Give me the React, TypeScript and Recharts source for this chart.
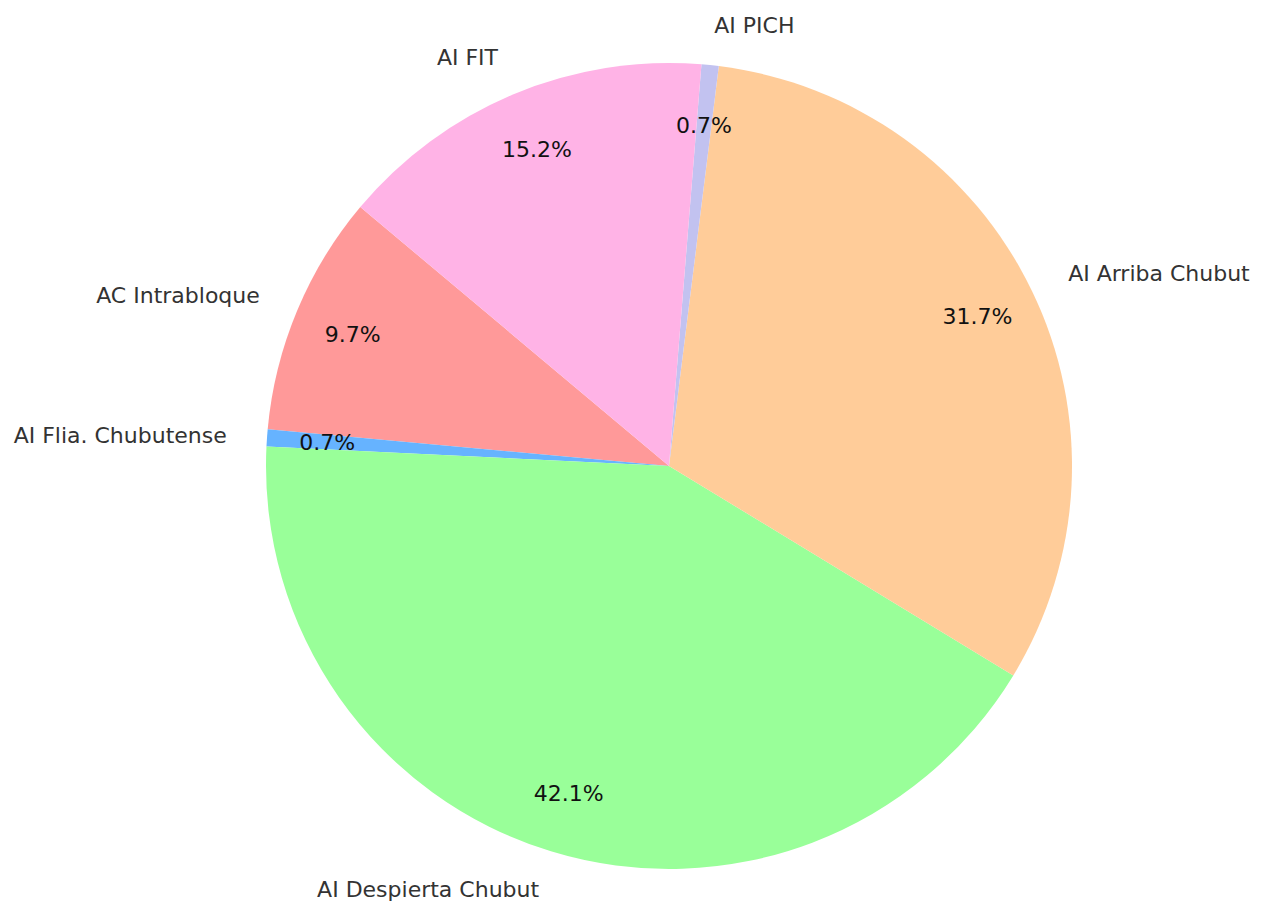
import { Cell, Pie, PieChart } from 'recharts';

// counts per group, in the order matplotlib drew them (startangle 140)
const NAMES = [
    'AC Intrabloque',
    'AI Flia. Chubutense',
    'AI Despierta Chubut',
    'AI Arriba Chubut',
    'AI PICH',
    'AI FIT',
];
const COUNTS = [14, 1, 61, 46, 1, 22];
const COLORS = ['#ff9999', '#66b3ff', '#99ff99', '#ffcc99', '#c2c2f0', '#ffb3e6'];

const data = NAMES.map((name, i) => ({ name, value: COUNTS[i] }));

const RADIAN = Math.PI / 180;
const FONT = '"DejaVu Sans", sans-serif';

function renderLabel(props: any) {
    const { cx, cy, midAngle, outerRadius, percent, name } = props;
    const cos = Math.cos(-midAngle * RADIAN);
    const sin = Math.sin(-midAngle * RADIAN);
    const lx = cx + outerRadius * 1.1 * cos;
    const ly = cy + outerRadius * 1.1 * sin;
    const px = cx + outerRadius * 0.85 * cos;
    const py = cy + outerRadius * 0.85 * sin;
    return (
        <g>
            <text
                x={lx}
                y={ly}
                textAnchor={cos >= 0 ? 'start' : 'end'}
                dominantBaseline="central"
                fill="#333"
                fontSize={22}
                fontFamily={FONT}
            >
                {name}
            </text>
            <text
                x={px}
                y={py}
                textAnchor="middle"
                dominantBaseline="central"
                fill="#111"
                fontSize={22}
                fontFamily={FONT}
            >
                {(percent * 100).toFixed(1)}%
            </text>
        </g>
    );
}

export default function App() {
    return (
        <div style={{ position: 'absolute', left: 0, top: 0, background: '#fff' }}>
            <PieChart width={1267} height={901}>
                <Pie
                    data={data}
                    dataKey="value"
                    nameKey="name"
                    cx={664}
                    cy={461}
                    outerRadius={403}
                    startAngle={140}
                    endAngle={500}
                    stroke="none"
                    label={renderLabel}
                    labelLine={false}
                    isAnimationActive={false}
                >
                    {data.map((d, i) => (
                        <Cell key={d.name} fill={COLORS[i]} />
                    ))}
                </Pie>
            </PieChart>
        </div>
    );
}
